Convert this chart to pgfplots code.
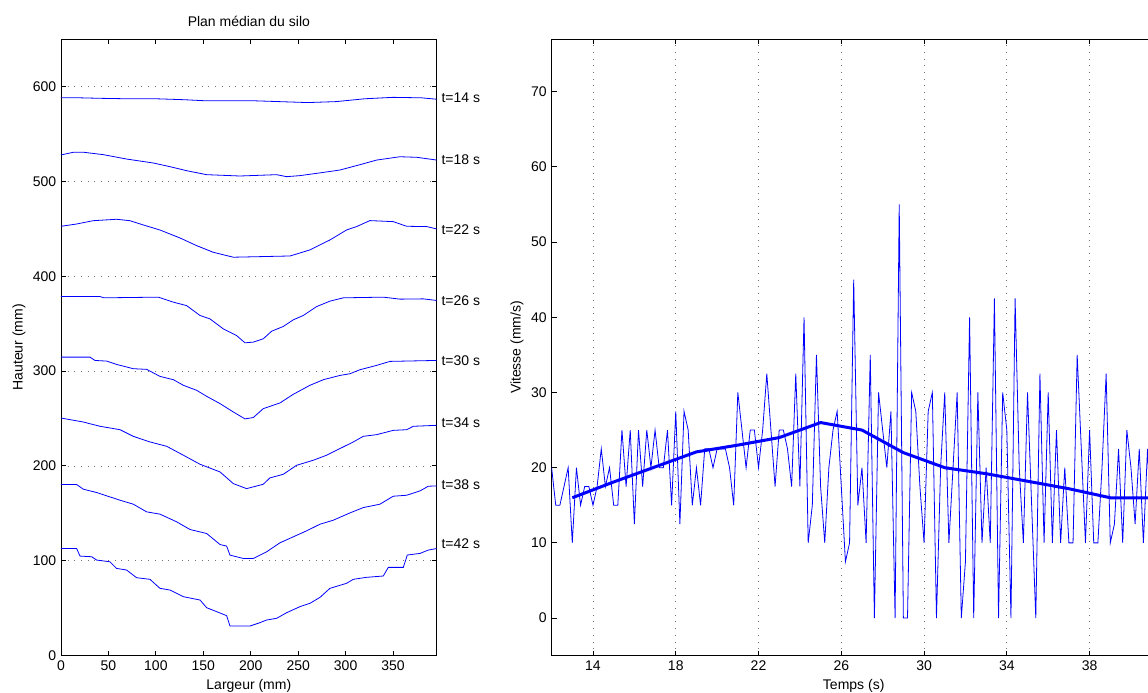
\documentclass[border=0pt]{standalone}
\usepackage{fontspec}
\setmainfont{Liberation Sans}
\usepackage{pgfplots}
\pgfplotsset{compat=1.18}
\begin{document}
\fontsize{14}{17}\selectfont
\begin{tikzpicture}
\pgfplotsset{
  every axis/.append style={
    scale only axis,
    axis line style={line width=0.9pt, black},
    tick style={black, line width=0.9pt},
    major tick length=5pt,
    tick align=inside,
    tick label style={font=\fontsize{14}{17}\selectfont},
    label style={font=\fontsize{14}{17}\selectfont},
    title style={font=\fontsize{14}{17}\selectfont},
    /pgf/number format/assume math mode=true,
    major grid style={line width=0.7pt, black!55, dash pattern=on 0.7pt off 6pt},
  }
}
\begin{axis}[
  name=L, at={(0pt,0pt)}, anchor=south west,
  width=375.7pt, height=616.7pt,
  xmin=0, xmax=396, ymin=0, ymax=650,
  xtick={0,50,...,350}, ytick={0,100,...,600},
  ymajorgrids,
  title={Plan médian du silo},
  title style={at={(axis description cs:0.5,1.018)}, anchor=center},
  xlabel={Largeur (mm)}, ylabel={Hauteur (mm)},
  xlabel style={at={(axis description cs:0.5,-0.0486)}, anchor=center},
  ylabel style={at={(axis description cs:-0.1118,0.5)}, anchor=center},
  clip mode=individual,
]
% t=14
\addplot[blue, line width=0.8pt] coordinates {(0,588)(20,588)(40,587.5)(70,587)(100,587)(130,586)(150,585)(180,585)(200,585)(230,584)(260,583)(290,584)(320,587)(350,588.5)(380,588)(396,586.5)};
% t=18
\addplot[blue, line width=0.8pt] coordinates {(0,527.8)(13,530.6)(24,530.6)(44.6,528.1)(69,523.5)(97.3,519.3)(115,515.4)(132.4,511.2)(153.5,507)(188.6,505.6)(227.3,507)(237.8,504.9)(251.9,506)(269.5,508.4)(294,511.9)(315,517.5)(332.7,522.4)(357.3,525.9)(375,525.3)(396,522.4)};
% t=22
\addplot[blue, line width=0.8pt] coordinates {(0,452.6)(16.5,455)(34,458.5)(58.6,460)(72.6,458.5)(86.7,454)(104.3,448.7)(125.4,440.3)(143,432.2)(160.5,425.2)(181.6,420)(241.4,421.3)(262.4,427.7)(283.5,438.2)(301,448.7)(311.6,452.3)(325.6,458.6)(350.2,457.5)(364.3,452.6)(385.4,452.3)(396,449.8)};
% t=26
\addplot[blue, line width=0.8pt] coordinates {(0,378.6)(41.1,378.6)(45,377.2)(102.7,377.9)(118.5,372.6)(132.4,369)(146.5,358.6)(157,355)(171,344.5)(185,337.5)(193.9,329.8)(202.7,330.5)(213.2,334)(222,342)(234.3,347)(244.8,354)(255.4,358.6)(269.5,368)(283.5,373.7)(297.6,377.2)(339.7,377.9)(357.3,375.8)(381.9,376.1)(396,374.4)};
% t=30
\addplot[blue, line width=0.8pt] coordinates {(0,314.7)(30.6,314.7)(35.8,311.2)(48.1,310.5)(58.6,307)(76.2,302.5)(90.3,301.8)(104.3,294.4)(118.5,290.9)(129,285)(143,279.7)(153.5,273.4)(167.6,265.7)(181.6,256.9)(193.9,249.6)(202.7,251)(213.2,260.4)(230.8,266.4)(244.8,275.5)(262.4,285)(276.5,290.9)(294,295.4)(304.6,297.2)(315.1,301.4)(332.7,306)(346.8,310.2)(396,311.2)};
% t=34
\addplot[blue, line width=0.8pt] coordinates {(0,250.5)(23.5,246.3)(41.1,241.8)(62.2,238.2)(76.2,231.2)(93.8,225.3)(111.4,220.7)(129,211.3)(146.5,201.8)(167.6,193.7)(181.6,181.4)(195.6,176.1)(213.2,180.7)(220.2,187.4)(234.3,191.2)(248.3,200.7)(265.9,206)(280,211.3)(294,218.3)(308.1,225.3)(318.6,231.2)(332.7,233)(350.2,237.5)(364.3,238.2)(371.3,241.8)(396,242.8)};
% t=38
\addplot[blue, line width=0.8pt] coordinates {(0,180.4)(16.5,180.4)(23.5,175.5)(37.6,172)(48.1,168.5)(62.2,163.9)(76.2,159.7)(90.3,151.6)(104.3,149.2)(121.9,141.1)(136,133)(153.5,128.8)(167.6,117.2)(174.6,115.5)(178.1,106)(192.2,102.5)(202.7,102.5)(216.7,109.5)(230.8,119)(244.8,125.3)(258.9,131.6)(273,138.6)(287,142.8)(304.6,150.5)(318.6,156.1)(336.2,159.7)(350.2,168.1)(364.3,169.1)(378.4,173.7)(387.1,178.6)(396,179)};
% t=42
\addplot[blue, line width=0.8pt] coordinates {(0,113)(16.5,113)(20,105)(32.3,104.3)(37.6,100.8)(51.6,99)(58.6,92)(69.1,90.3)(79.7,82.2)(93.8,80.5)(104.3,71)(114.9,69.2)(129,62.2)(146.5,58.7)(153.5,50.6)(164.1,46.4)(174.6,42.2)(178.1,31.3)(199.2,31.3)(209.7,34.8)(216.7,37.6)(227.3,39.4)(237.8,45.3)(251.9,51.7)(262.4,55.2)(273,61.5)(283.5,71)(301,76.3)(308.1,80.5)(322.1,82.6)(339.7,84)(345,93.1)(360.8,93.1)(365,106.1)(378.4,107.8)(387.1,111.3)(396,113)};
\node[anchor=west] at (axis cs:396,587.7) {t=14 s};
\node[anchor=west] at (axis cs:396,522.5) {t=18 s};
\node[anchor=west] at (axis cs:396,449.5) {t=22 s};
\node[anchor=west] at (axis cs:396,374.4) {t=26 s};
\node[anchor=west] at (axis cs:396,311) {t=30 s};
\node[anchor=west] at (axis cs:396,246) {t=34 s};
\node[anchor=west] at (axis cs:396,180.4) {t=38 s};
\node[anchor=west] at (axis cs:396,117.6) {t=42 s};
\end{axis}

\begin{axis}[
  name=R, at={(490.6pt,0pt)}, anchor=south west,
  width=604.2pt, height=616.7pt,
  xmin=12, xmax=41.2, ymin=-5, ymax=77,
  xtick={14,18,...,42}, ytick={0,10,...,70},
  xmajorgrids,
  xlabel={Temps (s)}, ylabel={Vitesse (mm/s)},
  xlabel style={at={(axis description cs:0.5,-0.0486)}, anchor=center},
  ylabel style={at={(axis description cs:-0.0573,0.5)}, anchor=center},
]
\addplot[blue, line width=0.8pt] table {
x y
12.0 20
12.2 15
12.4 15
12.6 17.5
12.8 20
13.0 10
13.2 20
13.4 15
13.6 17.5
13.8 17.5
14.0 15
14.2 17.5
14.4 22.5
14.6 17.5
14.8 20
15.0 15
15.2 15
15.4 25
15.6 17.5
15.8 25
16.0 12.5
16.2 25
16.4 17.5
16.6 25
16.8 20
17.0 25
17.2 20
17.4 20
17.6 25
17.8 15
18.0 27.5
18.2 12.5
18.4 27.5
18.6 25
18.8 15
19.0 20
19.2 15
19.4 22.5
19.6 22.5
19.8 20
20.0 22.5
20.2 22.5
20.4 22.5
20.6 20
20.8 15
21.0 30
21.2 25
21.4 20
21.6 25
21.8 25
22.0 20
22.2 25
22.4 32.5
22.6 25
22.8 17.5
23.0 25
23.2 25
23.4 22.5
23.6 17.5
23.8 32.5
24.0 17.5
24.2 40
24.4 10
24.6 15
24.8 35
25.0 17.5
25.2 10
25.4 20
25.6 25
25.8 27.5
26.0 17.5
26.2 7.5
26.4 10
26.6 45
26.8 15
27.0 20
27.2 10
27.4 35
27.6 0
27.8 30
28.0 25
28.2 20
28.4 27.5
28.6 0
28.8 55
29.0 0
29.2 0
29.4 30
29.6 27.5
29.8 17.5
30.0 10
30.2 27.5
30.4 30
30.6 0
30.8 20
31.0 30
31.2 10
31.4 20
31.6 30
31.8 0
32.0 7.5
32.2 40
32.4 0
32.6 30
32.8 10
33.0 20
33.2 10
33.4 42.5
33.6 0
33.8 30
34.0 25
34.2 0
34.4 42.5
34.6 20
34.8 10
35.0 30
35.2 15
35.4 0
35.6 32.5
35.8 10
36.0 30
36.2 10
36.4 25
36.6 10
36.8 20
37.0 10
37.2 10
37.4 35
37.6 22.5
37.8 10
38.0 25
38.2 10
38.4 10
38.6 20
38.8 32.5
39.0 10
39.2 12.5
39.4 22.5
39.6 10
39.8 25
40.0 20
40.2 12.5
40.4 22.5
40.6 10
40.8 22.5
41.0 10
41.2 20
};
\addplot[blue, line width=3pt] coordinates {(13,16)(15,18.1)(17,20.1)(19,22.1)(21,23)(23,24)(25,26)(27,25)(29,22)(31,20)(33,19.2)(35,18.2)(37,17.2)(39,16)(41,16)(41.2,16)};
\end{axis}
\pgfresetboundingbox
\path[use as bounding box] (-61pt,-37.3pt) rectangle (1087pt,655.7pt);
\end{tikzpicture}
\end{document}
